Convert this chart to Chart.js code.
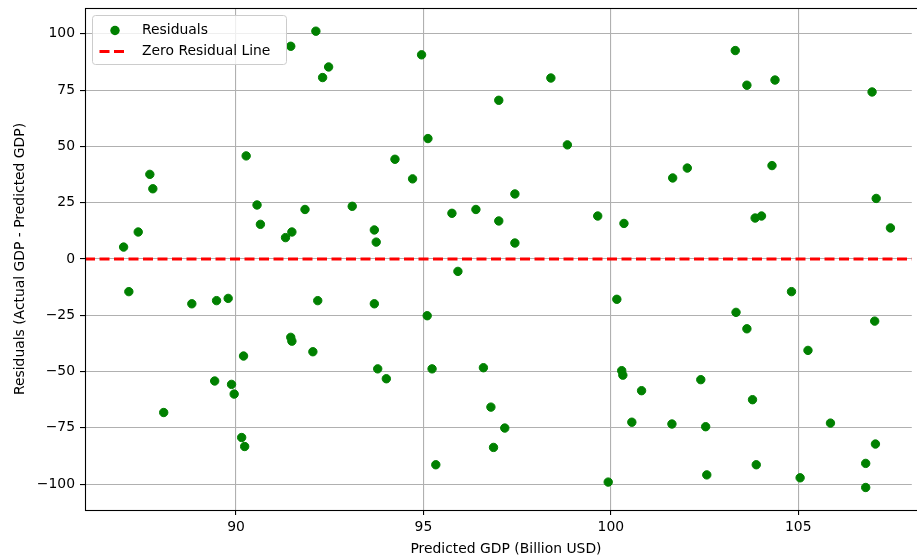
<!DOCTYPE html>
<html>
<head>
<meta charset="utf-8">
<script src="https://cdn.jsdelivr.net/npm/chart.js@4/dist/chart.umd.min.js"></script>
<style>
  html, body { margin: 0; padding: 0; background: #fff; }
  #chartContainer { width: 917px; height: 558px; }
</style>
</head>
<body>
<div id="chartContainer"><canvas id="myChart"></canvas></div>
<script>
// Predicted GDP (x) and residuals (y)
const predictedGdp = [
  92.13, 91.46, 92.31, 92.47, 90.27, 87.70, 87.78, 87.00, 87.39, 90.56,
  90.65, 91.32, 91.49, 91.84, 93.10, 93.69, 93.74, 94.95, 94.24, 94.71,
  95.12, 95.76, 96.40, 97.01, 97.01, 97.44, 97.44, 98.40, 98.84, 99.65,
  100.35, 95.92, 103.32, 103.63, 104.38, 106.97, 101.65, 102.04, 104.30, 103.85,
  104.02, 107.08, 107.46, 87.14, 88.82, 89.48, 89.79, 92.18, 93.69, 91.46,
  91.49, 92.05, 90.20, 93.78, 89.43, 89.88, 89.95, 88.07, 90.15, 90.23,
  95.10, 94.01, 95.23, 96.60, 96.80, 97.17, 96.87, 95.33, 99.93, 100.16,
  100.29, 100.32, 100.82, 100.56, 104.82, 103.34, 103.63, 107.04, 105.26, 102.40,
  103.78, 101.63, 102.53, 105.86, 107.06, 106.80, 102.56, 103.88, 105.05, 106.80
];
const residuals = [
  101.2, 94.5, 80.6, 85.3, 45.8, 37.6, 31.2, 5.3, 12.0, 24.0,
  15.4, 9.5, 12.0, 22.0, 23.4, 12.9, 7.5, 90.7, 44.3, 35.6,
  53.5, 20.3, 22.0, 70.5, 16.9, 28.9, 7.1, 80.4, 50.7, 19.1,
  15.8, -5.5, 92.6, 77.2, 79.5, 74.2, 36.0, 40.4, 41.5, 18.2,
  19.1, 26.9, 13.8, -14.5, -19.9, -18.5, -17.5, -18.5, -19.9, -34.8,
  -36.5, -41.2, -43.1, -48.8, -54.2, -55.7, -60.0, -68.2, -79.3, -83.3,
  -25.2, -53.2, -48.8, -48.3, -65.8, -75.1, -83.7, -91.4, -99.1, -17.9,
  -49.6, -51.6, -58.5, -72.5, -14.5, -23.7, -31.0, -27.6, -40.6, -53.6,
  -62.5, -73.3, -74.5, -72.9, -82.2, -90.8, -95.9, -91.4, -97.2, -101.5
];

// Axis ranges and tick labels
const xRange = [85.97, 108.03];
const yRange = [-111.5, 111.5];
const xTicks = [90, 95, 100, 105];
const yTicks = [-100, -75, -50, -25, 0, 25, 50, 75, 100];

// Zero residual line spans the whole x range
const zeroLineX = xRange;
const zeroLineY = [0, 0];

const FONT = "'DejaVu Sans', sans-serif";
const pointColor = '#008000';
const lineColor = '#ff0000';

// Frame (spines) drawn above the data, like matplotlib
const framePlugin = {
  id: 'frame',
  afterDatasetsDraw(chart) {
    const { ctx, chartArea: a } = chart;
    ctx.save();
    ctx.strokeStyle = '#000';
    ctx.lineWidth = 1.1;
    ctx.strokeRect(a.left + 0.5, a.top + 0.5, a.right - a.left + 10, a.bottom - a.top);
    ctx.restore();
  }
};

// Legend box in the upper left corner, plus the x axis title
// (the original figure is cropped on the right, so the title sits off-centre)
const legendPlugin = {
  id: 'boxLegend',
  afterDraw(chart) {
    const { ctx, chartArea: a } = chart;
    const x = a.left + 7.5, y = a.top + 7.5, w = 194, h = 49, r = 3;
    ctx.save();
    ctx.beginPath();
    ctx.roundRect(x, y, w, h, r);
    ctx.fillStyle = 'rgba(255,255,255,0.8)';
    ctx.fill();
    ctx.strokeStyle = '#cccccc';
    ctx.lineWidth = 1;
    ctx.stroke();

    // scatter marker
    ctx.beginPath();
    ctx.arc(x + 22.5, y + 15, 4.7, 0, Math.PI * 2);
    ctx.fillStyle = pointColor;
    ctx.fill();

    // dashed line sample
    ctx.beginPath();
    ctx.setLineDash([10, 4.5]);
    ctx.moveTo(x + 7, y + 36);
    ctx.lineTo(x + 35, y + 36);
    ctx.strokeStyle = lineColor;
    ctx.lineWidth = 2.8;
    ctx.stroke();
    ctx.setLineDash([]);

    ctx.fillStyle = '#000';
    ctx.font = `13.9px ${FONT}`;
    ctx.textBaseline = 'middle';
    ctx.fillText('Residuals', x + 49.5, y + 14.5);
    ctx.fillText('Zero Residual Line', x + 49.5, y + 35.5);

    ctx.textAlign = 'center';
    ctx.fillText('Predicted GDP (Billion USD)', 506, 549);
    ctx.restore();
  }
};

const ctx = document.getElementById('myChart').getContext('2d');

new Chart(ctx, {
  data: {
    datasets: [
      {
        type: 'line',
        label: 'Zero Residual Line',
        data: zeroLineX.map((v, i) => ({ x: v, y: zeroLineY[i] })),
        borderColor: lineColor,
        borderWidth: 2.8,
        borderDash: [10, 4.5],
        pointRadius: 0,
        fill: false,
        order: 0
      },
      {
        type: 'scatter',
        label: 'Residuals',
        data: predictedGdp.map((v, i) => ({ x: v, y: residuals[i] })),
        backgroundColor: pointColor,
        borderColor: pointColor,
        borderWidth: 1,
        pointRadius: 4.2,
        pointHoverRadius: 4.2,
        order: 1
      }
    ]
  },
  options: {
    responsive: true,
    maintainAspectRatio: false,
    animation: false,
    layout: { padding: { top: 8, right: 0, bottom: 0, left: 0 } },
    scales: {
      x: {
        type: 'linear',
        min: xRange[0],
        max: xRange[1],
        afterBuildTicks: (scale) => { scale.ticks = xTicks.map(v => ({ value: v })); },
        afterFit: (scale) => { scale.height = 48; scale.paddingLeft = 0; scale.paddingRight = 0; },
        ticks: {
          color: '#000',
          font: { family: FONT, size: 13.9 },
          padding: 4,
          maxRotation: 0
        },
        grid: {
          color: '#b0b0b0',
          lineWidth: 1.1,
          tickColor: '#000',
          tickLength: 5,
          tickWidth: 1.1
        },
        border: { display: false }
      },
      y: {
        type: 'linear',
        min: yRange[0],
        max: yRange[1],
        afterBuildTicks: (scale) => { scale.ticks = yTicks.map(v => ({ value: v })); },
        afterFit: (scale) => { scale.width = 85; scale.paddingTop = 0; scale.paddingBottom = 0; },
        ticks: {
          color: '#000',
          font: { family: FONT, size: 13.9 },
          padding: 5,
          callback: (v) => String(v).replace('-', '\u2212')
        },
        grid: {
          color: '#b0b0b0',
          lineWidth: 1.1,
          tickColor: '#000',
          tickLength: 5,
          tickWidth: 1.1
        },
        border: { display: false },
        title: {
          display: true,
          text: 'Residuals (Actual GDP - Predicted GDP)',
          color: '#000',
          font: { family: FONT, size: 13.9 },
          padding: { top: 12, bottom: 0 }
        }
      }
    },
    plugins: {
      legend: { display: false },
      tooltip: { enabled: false }
    }
  },
  plugins: [framePlugin, legendPlugin]
});
</script>
</body>
</html>
